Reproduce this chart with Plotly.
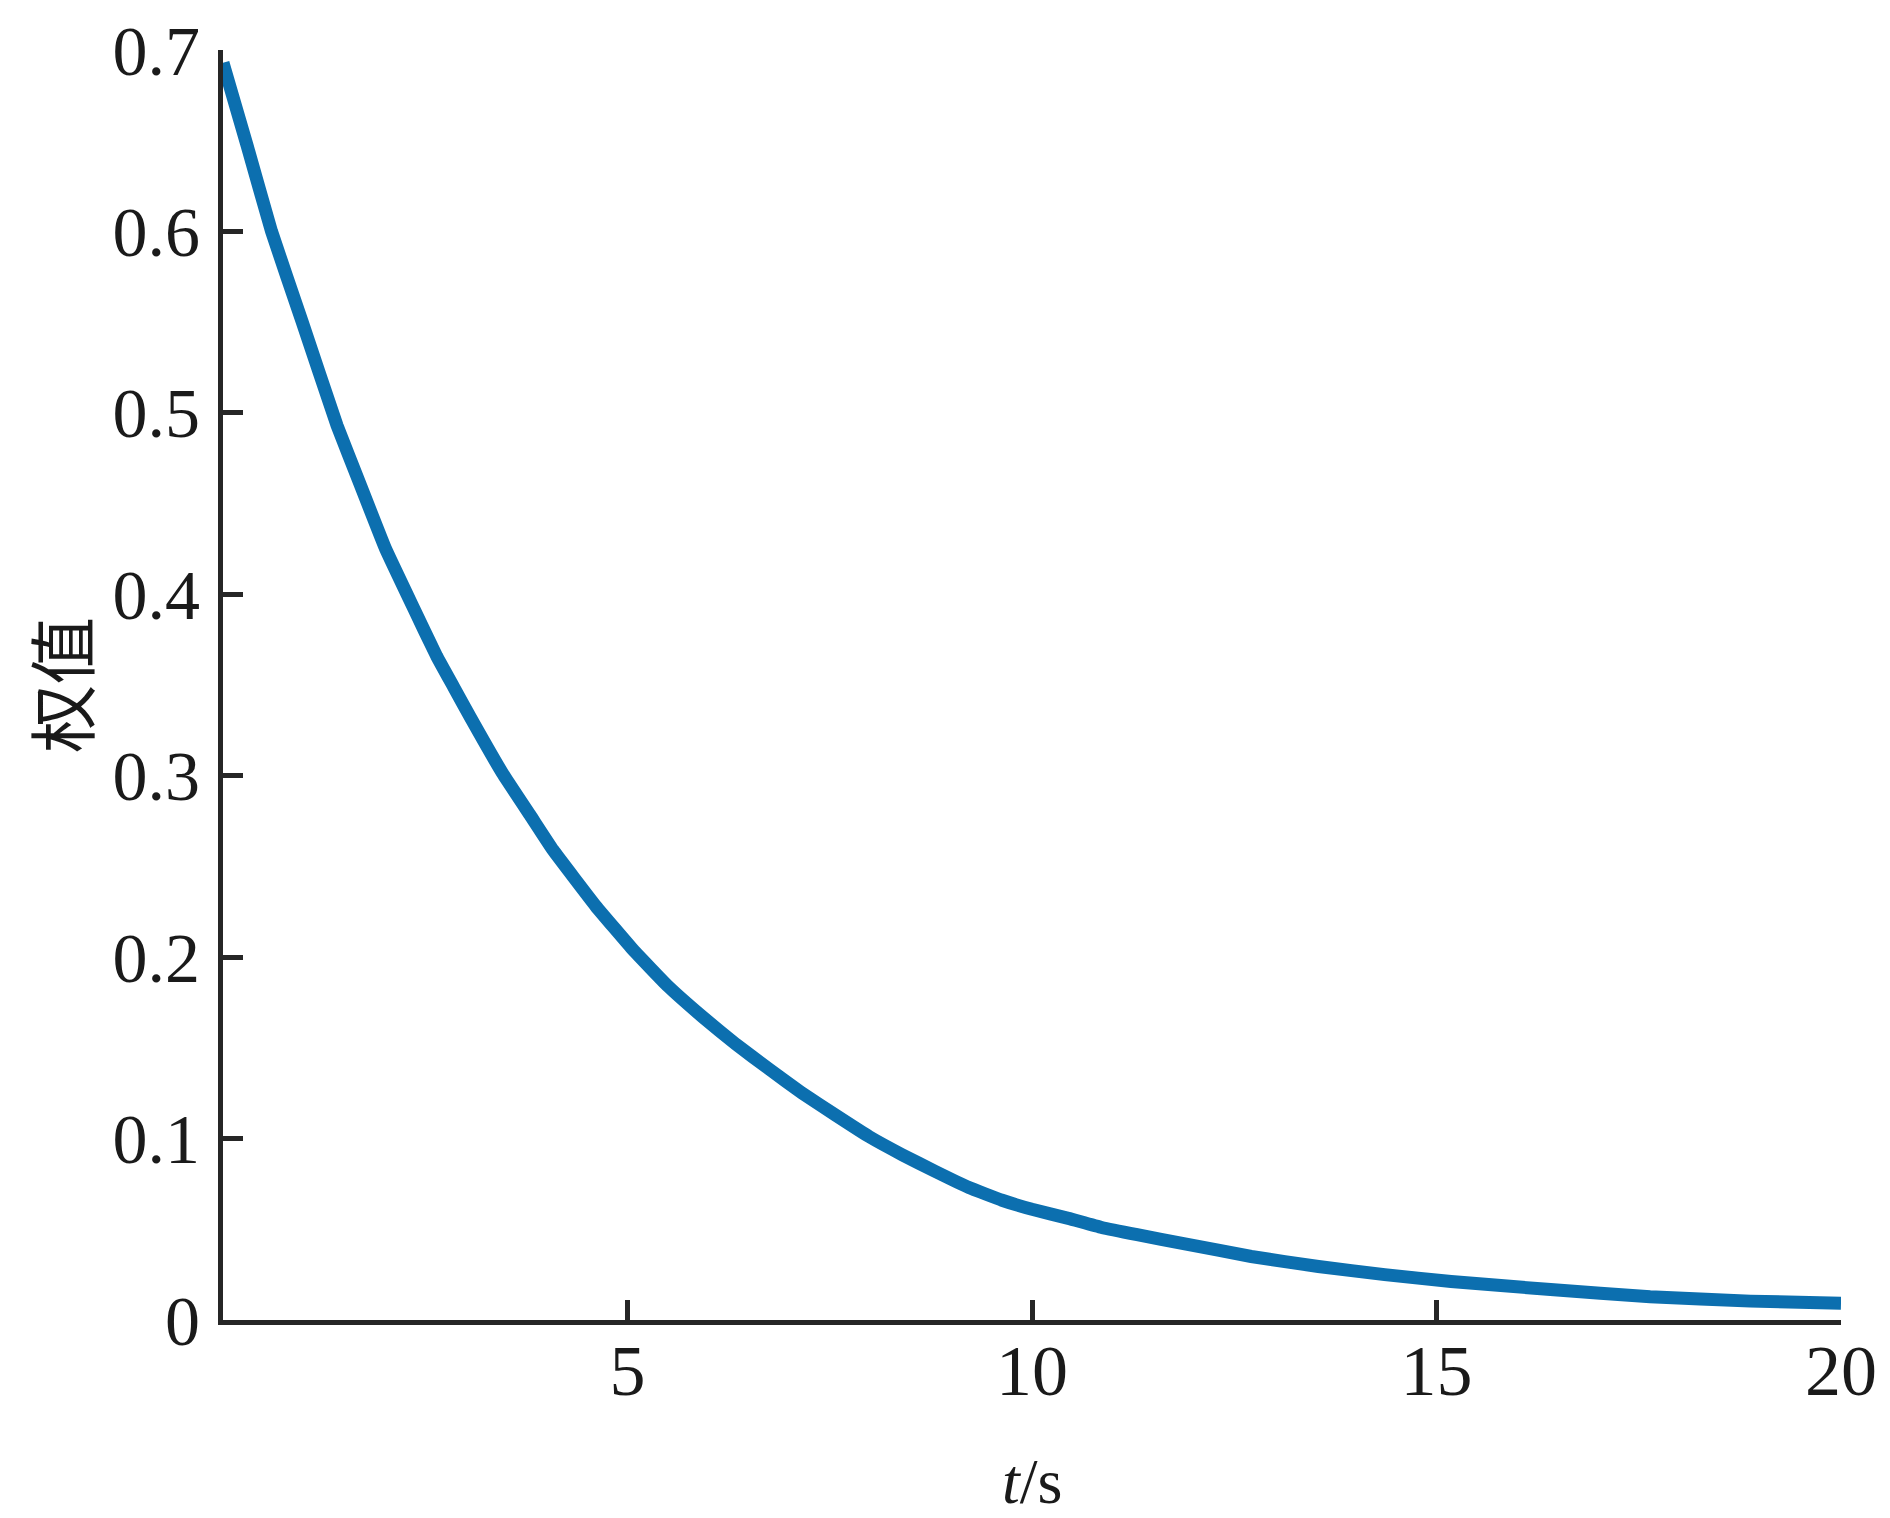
import plotly.graph_objects as go

# values
t_values = [0, 0.30, 0.60, 0.98, 1.41, 1.70, 2.01, 2.36, 2.64, 2.85, 3.06, 3.46,
            3.80, 4.08, 4.61, 5.07, 5.50, 5.93, 6.34, 6.76, 7.16, 7.57, 7.99,
            8.40, 8.80, 9.22, 9.63, 10.0, 10.45, 10.86, 11.30, 11.89, 12.71,
            13.54, 14.36, 15.18, 16.41, 17.64, 18.88, 20]
weights = [0.693, 0.647, 0.600, 0.550, 0.493, 0.460, 0.425, 0.392, 0.366, 0.349,
           0.332, 0.301, 0.278, 0.259, 0.228, 0.204, 0.184, 0.167, 0.152, 0.138,
           0.125, 0.113, 0.101, 0.091, 0.082, 0.073, 0.066, 0.061, 0.056, 0.051,
           0.047, 0.042, 0.035, 0.0295, 0.0250, 0.0212, 0.0168, 0.0128, 0.0104,
           0.0093]

x_ticks = [5, 10, 15, 20]
y_ticks = [0, 0.1, 0.2, 0.3, 0.4, 0.5, 0.6, 0.7]
y_tick_labels = ["0", "0.1", "0.2", "0.3", "0.4", "0.5", "0.6", "0.7"]

x_title = "<i>t</i>/s"
y_title = "权值"

serif = "Liberation Serif, Times New Roman, serif"
axis_color = "#262626"
text_color = "#1a1a1a"

fig = go.Figure()
fig.add_trace(go.Scatter(
    x=t_values, y=weights, mode="lines",
    line=dict(color="#0C6FAF", width=13, shape="spline", smoothing=0.3),
    showlegend=False,
))

fig.update_layout(
    width=1882, height=1510,
    margin=dict(l=215, r=49, t=42, b=198),
    paper_bgcolor="white", plot_bgcolor="white",
    font=dict(family=serif, size=70, color=text_color),
)

fig.update_xaxes(
    range=[0, 20], tickvals=x_ticks, ticktext=[str(v) for v in x_ticks],
    showline=True, linewidth=5, linecolor=axis_color, mirror=False,
    ticks="inside", ticklen=20, tickwidth=5, tickcolor=axis_color,
    showgrid=False, zeroline=False, automargin=False,
    ticklabeloverflow="allow",
    tickfont=dict(family=serif, size=72, color=text_color),
)
try:
    fig.update_xaxes(ticklabelstandoff=-16)
except Exception:
    fig.update_xaxes(ticklabelstandoff=0)

fig.update_yaxes(
    range=[0, 0.7], tickvals=y_ticks, ticktext=y_tick_labels,
    showline=True, linewidth=5, linecolor=axis_color, mirror=False,
    ticks="inside", ticklen=20, tickwidth=5, tickcolor=axis_color,
    showgrid=False, zeroline=False, automargin=False,
    ticklabeloverflow="allow",
    tickfont=dict(family=serif, size=70, color=text_color),
    ticklabelstandoff=4,
)

# y-axis title (rotated), left of the tick labels
fig.add_annotation(
    text=y_title, xref="paper", yref="paper", x=-0.1015, y=0.5,
    xanchor="center", yanchor="middle", textangle=-90, showarrow=False,
    font=dict(family="Noto Sans CJK SC", size=68, color=text_color),
)

# x-axis title placed below the tick labels
fig.add_annotation(
    text=x_title, xref="paper", yref="paper", x=0.5, y=-0.157,
    xanchor="center", yanchor="bottom", showarrow=False,
    font=dict(family=serif, size=64, color=text_color),
)

fig.write_html("out.html")
